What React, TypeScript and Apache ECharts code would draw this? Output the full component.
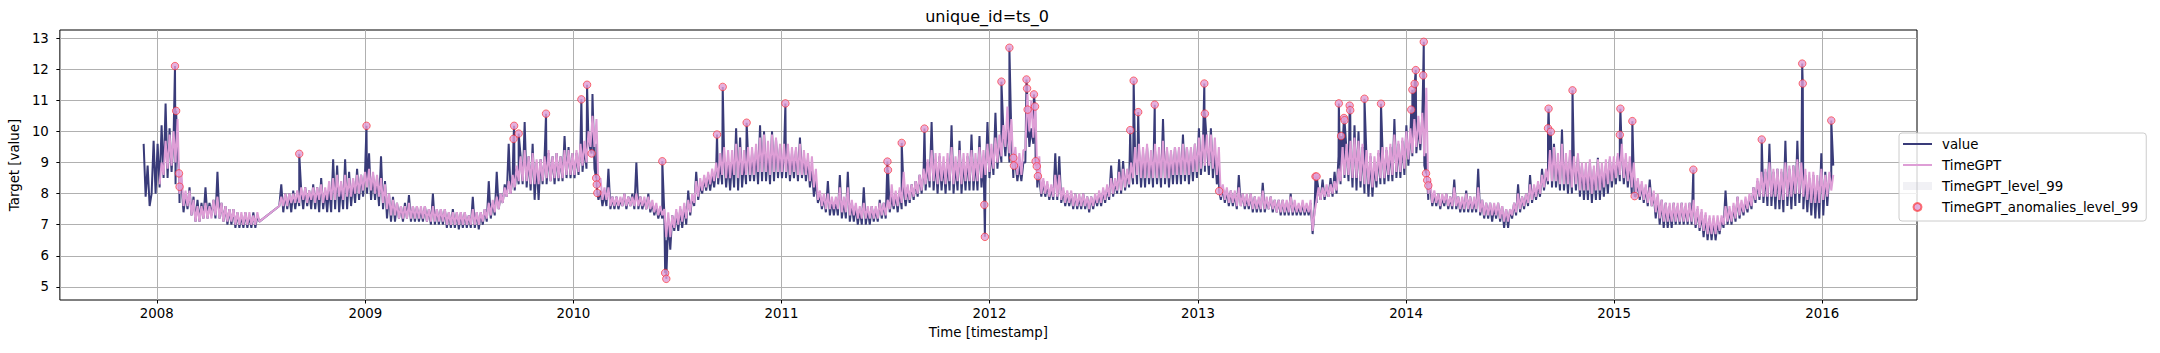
import React, { useEffect, useRef } from 'react';
import * as echarts from 'echarts';

// ---------------- DATA ----------------
const DAY = 86400000;
// weekly readings: week w starts at 2007-12-09 + 7w days; "A" read at week start, "B" read mid-week
const WEEK_START = Date.UTC(2007, 11, 9);
const BAND_START = Date.UTC(2008, 0, 6); // band readings every 28 days

const valueA = [
  9.6, 8.9, 8.0, 8.0, // 2007-12
  8.2, 8.5, 8.5, 8.7, // 2008-01
  8.3, 7.7, 7.4, 7.5,
  7.3, 7.1, 7.1, 7.2, 7.2,
  7.3, 7.2, 7.2, 7.1,
  7.0, 7.0, 6.9, 6.9,
  6.9, 6.9, 6.9, 6.9, 7.1,
  null, null, null, null,
  7.6, 7.4, 7.5, 7.4, 7.5,
  7.6, 7.5, 7.6, 7.5,
  7.5, 7.4, 7.5, 7.4,
  7.4, 7.5, 7.4, 7.5, 7.5,
  7.6, 7.7, 7.8, 7.9,
  8.0, 7.8, 7.8, 7.6, // 2009-01
  7.5, 7.2, 7.1, 7.1,
  7.2, 7.1, 7.2, 7.1, 7.1,
  7.1, 7.1, 7.1, 7.0,
  7.0, 7.0, 7.0, 6.9, 6.9,
  6.9, 6.85, 6.9, 6.9,
  6.9, 6.9, 6.85, 7.0,
  7.1, 7.2, 7.3, 7.5, 7.7,
  7.9, 8.0, 8.1, 8.3,
  8.3, 8.2, 8.1, 7.8,
  7.8, 8.3, 8.3, 8.4, 8.3,
  8.4, 8.4, 8.5, 8.5,
  8.5, 8.6, 8.7, 8.8, 9.4, // 2010-01
  8.8, 7.8, 7.6, 7.6,
  7.5, 7.5, 7.5, 7.6,
  7.5, 7.6, 7.5, 7.5,
  7.5, 7.5, 7.4, 7.3, 7.2,
  7.2, 6.5, 6.2, 6.8,
  6.8, 6.9, 7.0, 7.3,
  7.6, 7.8, 8.0, 8.1, 8.1,
  8.2, 8.3, 8.3, 8.2,
  8.1, 8.2, 8.1, 8.2, 8.3,
  8.4, 8.4, 8.3, 8.4,
  8.4, 8.3, 8.4, 8.5,
  8.5, 8.5, 8.4, 8.5, 8.4, // 2011-01
  8.5, 8.4, 8.2, 7.9,
  7.7, 7.5, 7.4, 7.3,
  7.3, 7.3, 7.2, 7.2,
  7.1, 7.1, 7.0, 7.0, 7.0,
  7.0, 7.1, 7.1, 7.2,
  7.2, 7.4, 7.5, 7.4, 7.5,
  7.6, 7.7, 7.8, 7.9,
  8.0, 8.1, 8.2, 8.1,
  8.0, 8.1, 8.0, 8.1, 8.0,
  8.1, 8.0, 8.1, 8.1,
  8.1, 8.1, 8.2, 8.3,
  8.5, 8.6, 8.8, 9.0, 9.2, // 2012-01
  9.0, 8.5, 8.4, 8.4,
  9.0, 9.5, 9.6, 8.2,
  7.9, 7.9, 7.8, 7.8, 7.8,
  7.7, 7.6, 7.6, 7.5,
  7.5, 7.5, 7.5, 7.4,
  7.5, 7.6, 7.6, 7.7, 7.8,
  7.9, 8.0, 8.0, 8.1,
  8.2, 8.3, 8.3, 8.2, 8.2,
  8.3, 8.2, 8.3, 8.2,
  8.3, 8.2, 8.3, 8.3,
  8.3, 8.4, 8.3, 8.4, 8.5,
  8.6, 8.7, 8.6, 8.5, // 2013-01
  8.3, 7.8, 7.7, 7.6,
  7.6, 7.5, 7.6, 7.5, 7.5,
  7.4, 7.4, 7.4, 7.4,
  7.5, 7.4, 7.4, 7.3,
  7.3, 7.3, 7.3, 7.3, 7.3,
  7.3, 7.3, 6.7, 7.7,
  7.8, 7.8, 7.9, 7.9,
  8.0, 8.3, 8.5, 8.4, 8.2,
  8.1, 8.2, 8.0, 7.9,
  7.9, 8.2, 8.3, 8.3,
  8.4, 8.4, 8.5, 8.5, 8.6,
  8.9, 9.2, 9.3, 9.4, // 2014-01
  8.9, 7.8, 7.6, 7.6,
  7.5, 7.6, 7.5, 7.5, 7.5,
  7.4, 7.4, 7.4, 7.4,
  7.4, 7.3, 7.2, 7.2,
  7.1, 7.2, 7.1, 6.9, 6.9,
  7.2, 7.3, 7.4, 7.5,
  7.6, 7.7, 7.8, 7.9, 8.1,
  8.3, 8.2, 8.2, 8.1,
  8.1, 8.0, 8.0, 8.1,
  7.9, 7.8, 7.8, 7.7, 7.8,
  7.8, 7.9, 8.0, 8.2,
  8.3, 8.4, 8.3, 8.2, // 2015-01
  8.0, 7.9, 7.8, 7.7,
  7.6, 7.6, 7.2, 7.0, 6.9,
  6.9, 6.9, 7.0, 7.0,
  7.0, 7.0, 7.0, 6.9, 6.8,
  6.6, 6.5, 6.5, 6.5,
  6.7, 6.9, 7.0, 7.0,
  7.1, 7.2, 7.3, 7.4, 7.5,
  7.7, 7.8, 7.7, 7.6,
  7.6, 7.5, 7.5, 7.4,
  7.6, 7.5, 7.6, 7.7, 7.5,
  7.4, 7.3, 7.2, 7.2,
  7.3, 7.6, 8.3, // 2016-01
];

const valueB = [
  7.9, 7.6, 9.7, 9.6,
  10.2, 10.9, 10.1, 9.8,
  9.3, 8.3, 8.0, 8.2,
  7.9, 7.8, 7.7, 8.2, 7.7,
  7.8, 8.7, 7.7, 7.6,
  7.5, 7.5, 7.4, 7.3,
  7.4, 7.3, 7.4, 7.3, null,
  null, null, null, null,
  8.3, 8.0, 8.0, 8.1, 8.0,
  8.1, 8.2, 8.1, 8.3,
  8.2, 8.5, 8.1, 8.2,
  9.1, 8.9, 8.3, 9.1, 8.7,
  8.4, 8.8, 8.6, 8.7,
  9.3, 8.6, 8.5, 9.2, // 2009
  8.4, 8.0, 7.9, 7.7,
  7.6, 7.7, 7.95, 7.6, 7.6,
  7.5, 7.6, 7.5, 8.0,
  7.5, 7.5, 7.5, 7.4, 7.5,
  7.4, 7.4, 7.4, 7.3,
  7.9, 7.4, 7.4, 7.5,
  8.4, 7.7, 8.7, 8.0, 8.3,
  9.6, 8.6, 8.8, 9.2,
  10.3, 9.2, 9.6, 9.0,
  9.1, 9.2, 9.3, 9.2, 9.3,
  9.2, 9.85, 9.5, 9.3,
  9.3, 9.6, 9.5, 9.7, 11.2, // 2010
  9.6, 8.1, 8.0, 8.8,
  7.9, 7.9, 7.8, 8.0,
  7.9, 8.0, 9.0, 7.9,
  7.8, 8.0, 7.7, 7.6, 7.5,
  7.4, 7.2, 7.3, 7.4,
  7.5, 7.6, 8.1, 7.9,
  8.7, 8.3, 8.5, 8.6, 8.6,
  8.8, 9.0, 9.2, 9.0,
  9.1, 10.1, 9.8, 9.1, 9.2,
  9.3, 9.4, 10.2, 10.0,
  9.4, 10.0, 9.75, 9.5,
  9.3, 9.4, 9.3, 9.4, 9.8, // 2011
  9.2, 9.1, 8.8, 8.4,
  8.0, 7.9, 8.4, 7.8,
  7.8, 8.6, 7.8, 8.7,
  7.7, 7.6, 7.5, 8.2, 7.5,
  7.6, 7.5, 7.8, 7.7,
  7.8, 7.9, 8.0, 8.1, 8.1,
  8.2, 8.3, 8.4, 8.6,
  8.8, 9.0, 10.3, 9.1,
  9.2, 9.0, 9.1, 10.2, 9.0,
  9.7, 9.1, 9.2, 9.9,
  9.1, 9.85, 9.2, 10.3,
  9.4, 10.6, 9.7, 10.0, 10.3, // 2012
  9.8, 9.0, 8.9, 9.0,
  9.8, 10.1, 10.2, 8.5,
  8.4, 8.3, 8.2, 9.3, 9.2,
  8.1, 8.0, 8.0, 8.0,
  7.9, 8.0, 7.9, 7.9,
  7.9, 8.0, 8.1, 8.2, 8.9,
  8.4, 9.1, 9.05, 8.7,
  8.9, 9.3, 9.4, 9.3, 9.5,
  9.2, 9.4, 9.3, 10.4,
  9.4, 9.3, 9.5, 9.4,
  9.9, 9.5, 9.4, 9.6, 10.1,
  9.5, 9.6, 10.1, 9.4, // 2013
  9.0, 8.2, 8.1, 8.1,
  8.0, 8.6, 8.0, 7.9, 8.0,
  7.9, 7.8, 8.35, 7.8,
  7.9, 7.8, 7.8, 7.8,
  7.7, 8.0, 7.7, 7.6, 7.7,
  7.6, 7.7, 7.5, 8.1,
  8.45, 8.2, 8.5, 8.7,
  9.2, 9.5, 9.4, 9.6, 10.2,
  10.0, 9.5, 9.2, 9.2,
  9.0, 9.3, 9.5, 9.4,
  9.5, 10.4, 9.6, 9.7, 10.2,
  9.8, 10.1, 10.2, 10.5, // 2014
  9.3, 8.2, 8.0, 8.0,
  7.9, 8.0, 7.9, 8.45, 7.9,
  7.8, 8.1, 7.9, 7.8,
  8.8, 7.8, 7.7, 7.7,
  7.6, 7.7, 7.6, 7.5, 7.5,
  7.7, 8.3, 7.9, 8.0,
  8.6, 8.2, 8.3, 8.8, 8.7,
  9.1, 9.6, 9.0, 10.06,
  9.1, 9.2, 9.0, 9.2,
  8.9, 8.8, 9.0, 8.8, 9.15,
  8.8, 8.9, 9.1, 9.0,
  9.2, 9.3, 9.1, 9.0, // 2015
  8.6, 8.4, 8.3, 8.2,
  8.45, 8.0, 7.9, 7.8, 7.7,
  7.6, 7.7, 7.6, 7.7,
  7.6, 7.7, 7.6, 7.5, 7.4,
  7.3, 7.2, 7.2, 7.1,
  7.2, 8.1, 7.5, 7.6,
  7.9, 7.7, 7.8, 7.9, 8.2,
  8.4, 8.6, 8.7, 9.6,
  8.7, 8.8, 8.7, 9.7,
  8.8, 8.9, 9.7, 8.8, 8.6,
  8.5, 8.6, 8.4, 9.3,
  8.7, 8.6, 8.9, // 2016
];

const timegptA = [
  null, null, null, null,
  8.3, 8.6, 8.8, 8.9,
  9.0, 8.0, 7.6, 7.6,
  7.3, 7.1, 7.1, 7.2, 7.2,
  7.2, 7.3, 7.2, 7.1,
  7.1, 7.1, 7.0, 7.0,
  7.0, 7.0, 7.0, 7.0, 7.1,
  null, null, null, null,
  7.6, 7.6, 7.6, 7.7, 7.7,
  7.7, 7.8, 7.7, 7.8,
  7.7, 7.8, 7.7, 7.8,
  7.8, 7.8, 7.9, 7.8, 7.9,
  7.9, 8.0, 8.0, 8.1,
  8.2, 8.1, 8.0, 7.9, // 2009
  7.7, 7.5, 7.3, 7.3,
  7.2, 7.2, 7.2, 7.2, 7.2,
  7.2, 7.2, 7.1, 7.1,
  7.1, 7.1, 7.1, 7.0, 7.0,
  7.0, 7.0, 7.0, 7.0,
  7.0, 7.0, 7.0, 7.1,
  7.2, 7.3, 7.4, 7.5, 7.7,
  7.9, 8.0, 8.2, 8.4,
  8.4, 8.4, 8.3, 8.3,
  8.3, 8.4, 8.5, 8.4, 8.5,
  8.5, 8.5, 8.6, 8.6,
  8.6, 8.7, 8.9, 9.0, 9.5, // 2010
  9.5, 8.2, 7.8, 7.8,
  7.6, 7.6, 7.6, 7.6,
  7.6, 7.6, 7.6, 7.6,
  7.6, 7.5, 7.5, 7.4, 7.3,
  7.3, 6.6, 6.6, 6.9,
  7.0, 7.1, 7.2, 7.4,
  7.7, 7.9, 8.1, 8.2, 8.3,
  8.4, 8.5, 8.6, 8.5,
  8.5, 8.6, 8.5, 8.6, 8.6,
  8.6, 8.6, 8.7, 8.7,
  8.7, 8.6, 8.7, 8.7,
  8.7, 8.7, 8.6, 8.7, 8.6, // 2011
  8.6, 8.6, 8.4, 8.2,
  7.8, 7.6, 7.5, 7.5,
  7.5, 7.5, 7.4, 7.4,
  7.3, 7.3, 7.2, 7.2, 7.2,
  7.2, 7.2, 7.2, 7.3,
  7.3, 7.5, 7.6, 7.6, 7.7,
  7.8, 7.8, 7.9, 8.0,
  8.1, 8.3, 8.4, 8.4,
  8.3, 8.4, 8.3, 8.4, 8.3,
  8.4, 8.3, 8.4, 8.4,
  8.4, 8.4, 8.5, 8.6,
  8.7, 8.8, 9.0, 9.2, 9.5, // 2012
  9.3, 8.8, 8.6, 8.6,
  9.4, 10.0, 9.8, 8.5,
  8.0, 8.0, 7.9, 7.9, 7.9,
  7.8, 7.7, 7.7, 7.6,
  7.6, 7.6, 7.6, 7.5,
  7.6, 7.7, 7.7, 7.8, 7.9,
  8.0, 8.1, 8.1, 8.2,
  8.3, 8.5, 8.6, 8.5, 8.5,
  8.5, 8.5, 8.5, 8.5,
  8.5, 8.5, 8.6, 8.6,
  8.6, 8.6, 8.6, 8.7, 8.7,
  8.8, 8.9, 8.9, 8.8, // 2013
  8.6, 7.9, 7.8, 7.7,
  7.7, 7.6, 7.6, 7.6, 7.6,
  7.5, 7.5, 7.5, 7.5,
  7.5, 7.5, 7.4, 7.4,
  7.4, 7.4, 7.4, 7.4, 7.4,
  7.4, 7.4, 6.8, 7.8,
  7.8, 7.9, 7.9, 8.0,
  8.1, 8.4, 8.6, 8.6, 8.5,
  8.5, 8.4, 8.3, 8.3,
  8.2, 8.4, 8.5, 8.5,
  8.6, 8.6, 8.7, 8.7, 8.8,
  9.1, 9.3, 9.5, 9.6, // 2014
  9.2, 8.0, 7.7, 7.7,
  7.6, 7.7, 7.6, 7.6, 7.6,
  7.5, 7.5, 7.5, 7.5,
  7.5, 7.4, 7.3, 7.3,
  7.3, 7.3, 7.2, 7.1, 7.1,
  7.3, 7.4, 7.5, 7.6,
  7.7, 7.8, 7.9, 8.0, 8.2,
  8.4, 8.4, 8.4, 8.3,
  8.3, 8.3, 8.2, 8.3,
  8.1, 8.1, 8.1, 8.0, 8.1,
  8.1, 8.2, 8.3, 8.4,
  8.5, 8.6, 8.5, 8.4, // 2015
  8.2, 8.0, 7.9, 7.8,
  7.7, 7.6, 7.4, 7.2, 7.1,
  7.1, 7.1, 7.1, 7.1,
  7.1, 7.1, 7.1, 7.0, 6.9,
  6.8, 6.7, 6.7, 6.7,
  6.8, 7.0, 7.1, 7.1,
  7.2, 7.3, 7.4, 7.5, 7.6,
  7.8, 7.9, 7.9, 7.9,
  7.9, 7.9, 7.8, 7.8,
  7.9, 7.9, 8.0, 8.0, 7.9,
  7.8, 7.7, 7.7, 7.7,
  7.8, 7.9, 8.1, // 2016
];

const timegptB = [
  null, null, null, null,
  9.0, 9.7, 9.9, 10.0,
  10.4, 8.6, 8.1, 8.1,
  7.8, 7.6, 7.6, 7.7, 7.6,
  7.8, 7.9, 7.7, 7.6,
  7.5, 7.5, 7.4, 7.4,
  7.4, 7.4, 7.3, 7.4, null,
  null, null, null, null,
  7.9, 8.0, 8.0, 8.0, 8.1,
  8.2, 8.2, 8.1, 8.2,
  8.2, 8.3, 8.2, 8.4,
  8.5, 8.6, 8.4, 8.6, 8.5,
  8.5, 8.6, 8.6, 8.7,
  8.8, 8.7, 8.6, 8.5, // 2009
  8.3, 8.0, 7.8, 7.7,
  7.6, 7.6, 7.7, 7.6, 7.6,
  7.6, 7.6, 7.5, 7.6,
  7.5, 7.5, 7.5, 7.4, 7.4,
  7.4, 7.4, 7.4, 7.3,
  7.5, 7.4, 7.4, 7.5,
  7.7, 7.8, 7.9, 8.0, 8.2,
  8.4, 8.6, 8.9, 9.2,
  9.4, 9.2, 9.3, 9.1,
  9.1, 9.2, 9.4, 9.2, 9.3,
  9.2, 9.4, 9.4, 9.3,
  9.4, 9.6, 9.7, 10.0, 10.5, // 2010
  10.4, 8.5, 8.2, 8.2,
  7.9, 7.9, 7.9, 8.0,
  7.9, 7.9, 8.0, 7.9,
  7.9, 7.9, 7.8, 7.7, 7.6,
  7.5, 7.4, 7.3, 7.5,
  7.6, 7.7, 7.8, 8.0,
  8.4, 8.5, 8.6, 8.7, 8.8,
  9.0, 9.3, 9.5, 9.4,
  9.4, 9.6, 9.5, 9.4, 9.5,
  9.5, 9.6, 9.8, 9.9,
  9.7, 9.9, 9.8, 9.6,
  9.6, 9.6, 9.5, 9.5, 9.6, // 2011
  9.4, 9.3, 9.2, 8.8,
  8.1, 8.0, 8.0, 7.9,
  7.9, 8.2, 7.9, 8.2,
  7.8, 7.7, 7.6, 7.7, 7.6,
  7.6, 7.6, 7.7, 7.7,
  7.8, 8.3, 8.1, 8.2, 8.7,
  8.3, 8.3, 8.4, 8.6,
  8.8, 9.1, 9.4, 9.3,
  9.3, 9.2, 9.3, 9.5, 9.2,
  9.4, 9.3, 9.3, 9.4,
  9.3, 9.5, 9.4, 9.6,
  9.6, 9.8, 9.9, 10.2, 10.8, // 2012
  10.4, 9.5, 9.3, 9.4,
  11.2, 11.0, 10.9, 9.2,
  8.5, 8.4, 8.3, 8.6, 8.6,
  8.2, 8.1, 8.1, 8.0,
  8.0, 8.0, 7.9, 7.9,
  8.0, 8.1, 8.2, 8.3, 8.5,
  8.5, 8.7, 8.8, 8.8,
  9.0, 9.5, 9.6, 9.5, 9.6,
  9.4, 9.6, 9.5, 9.7,
  9.5, 9.4, 9.5, 9.5,
  9.6, 9.5, 9.5, 9.6, 9.8,
  9.9, 9.9, 9.9, 9.8, // 2013
  9.5, 8.3, 8.2, 8.1,
  8.1, 8.2, 8.0, 8.0, 8.0,
  7.9, 7.9, 8.1, 7.9,
  7.9, 7.8, 7.8, 7.8,
  7.8, 7.9, 7.8, 7.7, 7.8,
  7.7, 7.8, 7.4, 8.2,
  8.2, 8.3, 8.3, 8.4,
  8.8, 9.5, 9.6, 9.7, 9.8,
  9.7, 9.6, 9.4, 9.3,
  9.2, 9.4, 9.5, 9.5,
  9.6, 9.9, 9.7, 9.8, 10.0,
  10.1, 10.4, 10.5, 10.6, // 2014
  11.4, 8.4, 8.1, 8.0,
  8.0, 8.0, 7.9, 8.2, 7.9,
  7.9, 8.0, 7.9, 7.9,
  8.2, 7.8, 7.7, 7.7,
  7.7, 7.7, 7.6, 7.5, 7.5,
  7.7, 8.0, 7.9, 8.0,
  8.3, 8.3, 8.4, 8.6, 8.8,
  9.4, 9.5, 9.3, 9.6,
  9.3, 9.4, 9.2, 9.3,
  9.0, 9.0, 9.1, 8.9, 9.1,
  9.0, 9.1, 9.2, 9.2,
  9.3, 9.6, 9.3, 9.2, // 2015
  9.0, 8.5, 8.4, 8.3,
  8.2, 8.1, 8.0, 7.8, 7.7,
  7.7, 7.7, 7.7, 7.7,
  7.7, 7.7, 7.8, 7.6, 7.5,
  7.4, 7.3, 7.3, 7.3,
  7.3, 7.6, 7.6, 7.7,
  7.9, 7.8, 7.9, 8.0, 8.2,
  8.5, 8.7, 8.8, 9.0,
  8.8, 8.8, 8.8, 9.0,
  8.9, 8.9, 9.1, 9.0, 8.8,
  8.7, 8.7, 8.6, 8.8,
  8.6, 8.7, 8.6, // 2016
];

// TimeGPT_level_99 band, read every 28 days from 2008-01-06
const bandLow = [
  7.0, 7.2, 6.1, 6.0, 5.9, 5.8, 5.8, 6.0, 6.3, 6.4, 6.5, 6.6, 6.7,
  6.8, 6.3, 6.0, 5.9, 5.9, 5.8, 5.8, 5.9, 6.2, 6.7, 7.1, 7.2, 7.3,
  7.4, 7.8, 6.6, 6.4, 6.4, 6.2, 5.6, 5.9, 6.6, 7.2, 7.3, 7.3, 7.4,
  7.4, 7.3, 6.7, 6.2, 6.1, 6.0, 6.0, 6.3, 6.5, 7.0, 7.2, 7.2, 7.2,
  7.5, 7.8, 7.6, 7.9, 6.6, 6.4, 6.3, 6.4, 6.7, 7.2, 7.3, 7.3, 7.3, 7.5,
  7.5, 6.6, 6.4, 6.3, 6.2, 6.2, 6.0, 6.6, 7.3, 7.2, 7.1, 7.4, 7.6,
  7.9, 6.6, 6.4, 6.3, 6.1, 6.0, 6.2, 6.5, 7.2, 7.2, 7.0, 7.0, 7.1,
  7.3, 6.6, 6.2, 5.9, 5.8, 5.6, 5.6, 6.0, 6.6, 6.8, 6.8, 6.8, 6.7, 6.7,
];
const bandHigh = [
  10.8, 11.2, 8.9, 8.8, 8.8, 8.6, 8.6, 8.8, 9.0, 9.2, 9.3, 9.5, 9.6,
  9.8, 9.3, 8.8, 8.7, 8.6, 8.6, 8.5, 8.6, 9.0, 9.7, 10.3, 10.4, 10.5,
  10.7, 11.5, 9.1, 8.9, 8.9, 8.8, 8.4, 8.8, 9.5, 10.4, 10.5, 10.6, 10.6,
  10.5, 10.4, 9.5, 8.9, 8.8, 8.7, 8.6, 9.2, 9.3, 10.2, 10.4, 10.4, 10.5,
  10.8, 11.6, 10.6, 11.8, 9.3, 9.0, 8.9, 9.1, 9.5, 10.4, 10.5, 10.5, 10.6, 10.8,
  10.9, 9.1, 8.9, 8.8, 8.7, 8.6, 8.5, 9.2, 10.6, 10.6, 10.4, 10.7, 11.0,
  11.8, 9.0, 8.9, 8.8, 8.6, 8.5, 8.8, 9.3, 10.4, 10.4, 10.0, 10.1, 10.2,
  10.3, 9.3, 8.8, 8.6, 8.5, 8.2, 8.3, 8.8, 9.6, 9.8, 9.9, 9.9, 9.8, 9.8,
];

const anomalyDates = [
  '2008-02-02', '2008-02-04', '2008-02-09', '2008-02-10', '2008-09-07', '2009-01-03',
  '2009-09-18', '2009-09-19', '2009-09-27', '2009-11-14', '2010-01-15', '2010-01-25',
  '2010-02-02', '2010-02-10', '2010-02-11', '2010-02-12', '2010-06-06', '2010-06-11',
  '2010-06-13', '2010-09-10', '2010-09-20', '2010-11-01', '2011-01-08', '2011-07-06',
  '2011-07-07', '2011-07-31', '2011-09-09', '2011-12-23', '2011-12-24', '2012-01-22',
  '2012-02-05', '2012-02-12', '2012-02-13', '2012-03-06', '2012-03-07', '2012-03-08',
  '2012-03-19', '2012-03-21', '2012-03-22', '2012-03-24', '2012-03-26', '2012-09-04',
  '2012-09-10', '2012-09-18', '2012-10-17', '2013-01-12', '2013-01-13', '2013-02-07',
  '2013-07-26', '2013-07-28', '2013-09-05', '2013-09-09', '2013-09-14', '2013-09-15',
  '2013-09-24', '2013-09-25', '2013-10-20', '2013-11-18', '2014-01-10', '2014-01-12',
  '2014-01-16', '2014-01-18', '2014-01-31', '2014-02-01', '2014-02-05', '2014-02-07',
  '2014-02-09', '2014-09-07', '2014-09-08', '2014-09-12', '2014-10-20', '2015-01-11',
  '2015-01-12', '2015-02-02', '2015-02-06', '2015-05-20', '2015-09-17', '2015-11-27',
  '2015-11-28', '2016-01-17',
];
const anomalyValues = [
  12.1, 10.66, 8.65, 8.22, 9.28, 10.18,
  9.76, 10.18, 9.93, 10.57, 11.03, 11.5,
  9.29, 8.5, 8.29, 8.02, 9.04, 5.45,
  5.26, 9.9, 11.43, 10.28, 10.9, 9.03,
  8.76, 9.63, 10.09, 7.64, 6.61, 11.6,
  12.69, 9.15, 8.9, 11.67, 11.38, 10.7,
  11.19, 10.8, 9.04, 8.88, 8.56, 10.04,
  11.63, 10.62, 10.86, 11.54, 10.57, 8.08,
  8.55, 8.55, 10.9, 9.85, 10.43, 10.36,
  10.83, 10.68, 11.05, 10.89, 10.7, 11.34,
  11.53, 11.97, 11.8, 12.88, 8.65, 8.43,
  8.26, 10.1, 10.73, 9.99, 11.32, 9.89,
  10.73, 10.33, 7.92, 8.77, 9.74, 12.18,
  11.54, 10.35,
];

const yearTicks = [2008, 2009, 2010, 2011, 2012, 2013, 2014, 2015, 2016];
const valueTicks = [5, 6, 7, 8, 9, 10, 11, 12, 13];

// ---------------- BUILD ----------------
const toTime = (s: string) => {
  const [y, m, d] = s.split('-').map(Number);
  return Date.UTC(y, m - 1, d);
};

function weekly(a: (number | null)[], b: (number | null)[]) {
  const out: [number, number | null][] = [];
  for (let w = 0; w < a.length; w++) {
    const t = WEEK_START + w * 7 * DAY;
    out.push([t, a[w]]);
    out.push([t + 3.5 * DAY, b[w]]);
  }
  return out;
}

const anomalyPoints: [number, number][] = anomalyDates.map((d, i) => [toTime(d), anomalyValues[i]]);
const valuePoints = weekly(valueA, valueB)
  .concat(anomalyPoints)
  .sort((p, q) => p[0] - q[0]);
const timegptPoints = weekly(timegptA, timegptB);
const bandBase = bandLow.map((v, k) => [BAND_START + k * 28 * DAY, v]);
const bandSpan = bandHigh.map((v, k) => [BAND_START + k * 28 * DAY, +(v - bandLow[k]).toFixed(2)]);

const X_MIN = Date.UTC(2007, 6, 15);
const X_MAX = Date.UTC(2016, 5, 15, 10);
const yearTickValues = yearTicks.map((y) => Date.UTC(y, 0, 1));

const FONT = 'DejaVu Sans';
const NAVY = '#393b79';
const PINK = '#de9ed6';
const BAND = 'rgba(185,185,205,0.2)';
const LINE_ICON = 'path://M0,0H29V2H0Z';

export default function App() {
  const ref = useRef<HTMLDivElement>(null);
  useEffect(() => {
    document.body.style.margin = '0';
    const chart = echarts.init(ref.current!, null, { renderer: 'svg' });
    chart.setOption({
      animation: false,
      backgroundColor: '#ffffff',
      textStyle: { fontFamily: FONT },
      grid: {
        left: 57, top: 30, width: 1860, height: 270,
        show: true, borderColor: '#000', borderWidth: 1, backgroundColor: 'transparent',
      },
      graphic: [
        {
          type: 'text', x: 987, y: 16, z: 10,
          style: {
            text: 'unique_id=ts_0', fill: '#000', font: `16px "${FONT}"`,
            align: 'center', verticalAlign: 'middle',
          },
        },
      ],
      xAxis: {
        type: 'value', min: X_MIN, max: X_MAX,
        axisLine: { show: false },
        axisTick: { show: true, length: 3.5, customValues: yearTickValues, lineStyle: { color: '#000', width: 1 } },
        axisLabel: {
          customValues: yearTickValues, margin: 7, fontSize: 13.33, color: '#000', fontFamily: FONT,
          formatter: (v: number) => String(new Date(v).getUTCFullYear()),
        },
        splitLine: { show: true, lineStyle: { color: '#b0b0b0', width: 1 } },
        name: 'Time [timestamp]', nameLocation: 'middle', nameGap: 26,
        nameTextStyle: { fontSize: 13.33, color: '#000', fontFamily: FONT },
      },
      yAxis: {
        type: 'value', min: 4.58, max: 13.26,
        axisLine: { show: false },
        axisTick: { show: true, length: 3.5, customValues: valueTicks, lineStyle: { color: '#000', width: 1 } },
        axisLabel: { customValues: valueTicks, margin: 11, fontSize: 13.33, color: '#000', fontFamily: FONT },
        splitLine: { show: true, lineStyle: { color: '#b0b0b0', width: 1 } },
        name: 'Target [value]', nameLocation: 'middle', nameGap: 31, nameRotate: 90,
        nameTextStyle: { fontSize: 13.33, color: '#000', fontFamily: FONT },
      },
      legend: {
        orient: 'vertical', left: 1899, top: 133,
        padding: [3, 8, 6, 4], itemWidth: 29, itemHeight: 8, itemGap: 5,
        backgroundColor: 'rgba(255,255,255,0.8)', borderColor: '#cccccc', borderWidth: 1, borderRadius: 3,
        textStyle: { fontSize: 13.33, color: '#000', fontFamily: FONT, lineHeight: 16, padding: [0, 0, 0, 5] },
        data: [
          { name: 'value', icon: LINE_ICON },
          { name: 'TimeGPT', icon: LINE_ICON },
          { name: 'TimeGPT_level_99', icon: 'rect' },
          { name: 'TimeGPT_anomalies_level_99', icon: 'circle' },
        ],
      },
      series: [
        {
          name: 'bandBase', type: 'line', stack: 'band', data: bandBase, symbol: 'none', silent: true,
          lineStyle: { opacity: 0, width: 0 }, itemStyle: { color: BAND }, z: 1,
        },
        {
          name: 'TimeGPT_level_99', type: 'line', stack: 'band', data: bandSpan, symbol: 'none', silent: true,
          lineStyle: { opacity: 0, width: 0 }, itemStyle: { color: BAND },
          areaStyle: { color: BAND, opacity: 1 }, z: 1,
        },
        {
          name: 'value', type: 'line', data: valuePoints, symbol: 'none', connectNulls: true,
          lineStyle: { color: NAVY, width: 2 }, itemStyle: { color: NAVY }, z: 2,
        },
        {
          name: 'TimeGPT', type: 'line', data: timegptPoints, symbol: 'none', connectNulls: true,
          lineStyle: { color: PINK, width: 2 }, itemStyle: { color: PINK }, z: 3,
        },
        {
          name: 'TimeGPT_anomalies_level_99', type: 'scatter', data: anomalyPoints, symbolSize: 7.5,
          itemStyle: { color: PINK, borderColor: 'rgba(255,30,30,0.75)', borderWidth: 1 }, z: 4,
        },
      ],
    });
    return () => chart.dispose();
  }, []);
  return <div ref={ref} style={{ width: 2160, height: 353 }} />;
}
